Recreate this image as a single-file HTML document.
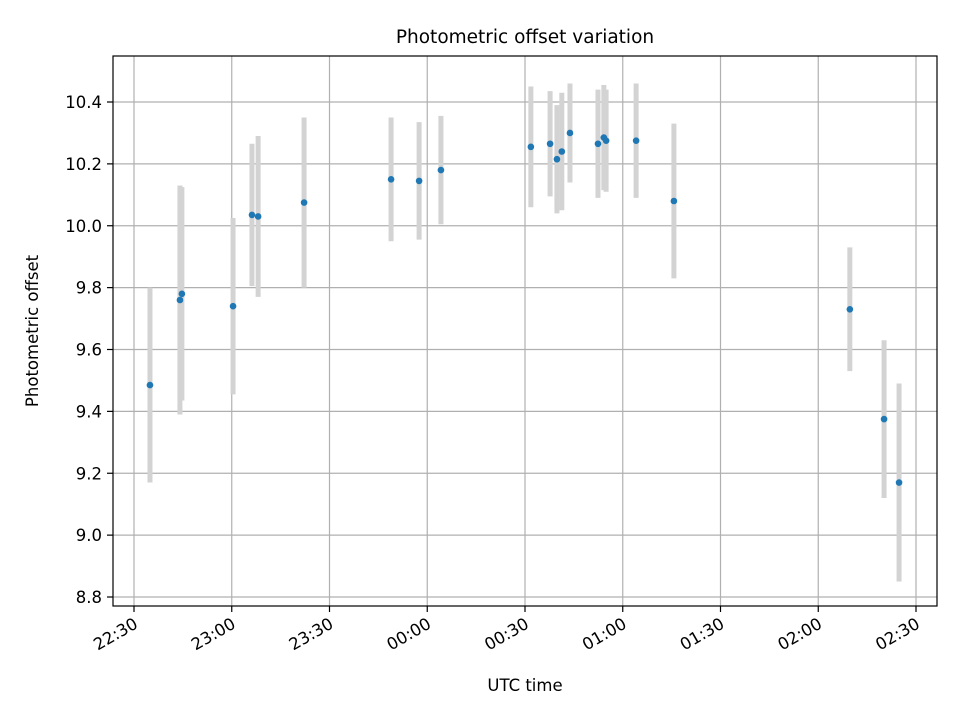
<!DOCTYPE html>
<html>
<head>
<meta charset="utf-8">
<style>
html,body{margin:0;padding:0;background:#fff;}
svg text{font-family:"DejaVu Sans","Liberation Sans",sans-serif;fill:#000;}
</style>
</head>
<body>
<svg id="chart" width="960" height="720" viewBox="0 0 960 720" xmlns="http://www.w3.org/2000/svg">
<rect width="960" height="720" fill="#fff"/>
<g id="grid"></g>
<g id="errs"></g>
<g id="pts"></g>
<rect x="113" y="56" width="824" height="550" fill="none" stroke="#000" stroke-width="1.2"/>
<g id="xticks"></g>
<g id="yticks"></g>
<text x="525" y="43" font-size="18.5" text-anchor="middle">Photometric offset variation</text>
<text x="525" y="691" font-size="16.5" text-anchor="middle">UTC time</text>
<text x="38" y="331" font-size="16.5" text-anchor="middle" transform="rotate(-90 38 331)">Photometric offset</text>
</svg>
<script>
// minutes after 22:30 UTC
const times = [4.9,14.1,14.7,30.4,36.2,38.1,52.2,78.9,87.5,94.2,121.8,127.7,129.8,131.3,133.8,142.4,144.2,144.9,154.1,165.7,219.7,230.2,234.8];
const offsets = [9.485,9.76,9.78,9.74,10.035,10.03,10.075,10.15,10.145,10.18,10.255,10.265,10.215,10.24,10.30,10.265,10.285,10.275,10.275,10.08,9.73,9.375,9.17];
const errors = [0.315,0.37,0.345,0.285,0.23,0.26,0.275,0.2,0.19,0.175,0.195,0.17,0.175,0.19,0.16,0.175,0.17,0.165,0.185,0.25,0.2,0.255,0.32];
const xTickLabels = ["22:30","23:00","23:30","00:00","00:30","01:00","01:30","02:00","02:30"];
const yTickLabels = ["8.8","9.0","9.2","9.4","9.6","9.8","10.0","10.2","10.4"];

const NS="http://www.w3.org/2000/svg";
const X=m=>134+m*(97.75/30);
const Y=v=>597-(v-8.8)*(61.875/0.2);
function mk(tag,attrs,parent){const e=document.createElementNS(NS,tag);for(const k in attrs)e.setAttribute(k,attrs[k]);parent.appendChild(e);return e;}
const grid=document.getElementById('grid'),xt=document.getElementById('xticks'),yt=document.getElementById('yticks');
xTickLabels.forEach((lab,i)=>{
  const x=X(i*30);
  const g=mk('line',{x1:x,x2:x,y1:56,y2:606,stroke:'#b0b0b0','stroke-width':1.2},grid);
  
  
  const t=mk('line',{x1:x,x2:x,y1:606,y2:612,stroke:'#000','stroke-width':1.2},xt);
  
  
  const tx=mk('text',{x:x+5,y:627,'font-size':16.5,'text-anchor':'end',transform:`rotate(-30 ${x+5} 627)`},xt);
  tx.textContent=lab;
  
  
});
yTickLabels.forEach(lab=>{
  const y=Y(parseFloat(lab));
  const g=mk('line',{x1:113,x2:937,y1:y,y2:y,stroke:'#b0b0b0','stroke-width':1.2},grid);
  
  
  const t=mk('line',{x1:107,x2:113,y1:y,y2:y,stroke:'#000','stroke-width':1.2},yt);
  
  
  const tx=mk('text',{x:102,y:y+6,'font-size':16.5,'text-anchor':'end'},yt);
  tx.textContent=lab;
  
  
});
const errs=document.getElementById('errs'),pts=document.getElementById('pts');
times.forEach((m,i)=>{
  const x=X(m);
  const e=mk('line',{x1:x,x2:x,y1:Y(offsets[i]+errors[i]),y2:Y(offsets[i]-errors[i]),stroke:'#d3d3d3','stroke-width':5},errs);
  
  
  const c=mk('circle',{cx:x,cy:Y(offsets[i]),r:3.3,fill:'#1f77b4'},pts);
  
  
});
</script>
</body>
</html>
